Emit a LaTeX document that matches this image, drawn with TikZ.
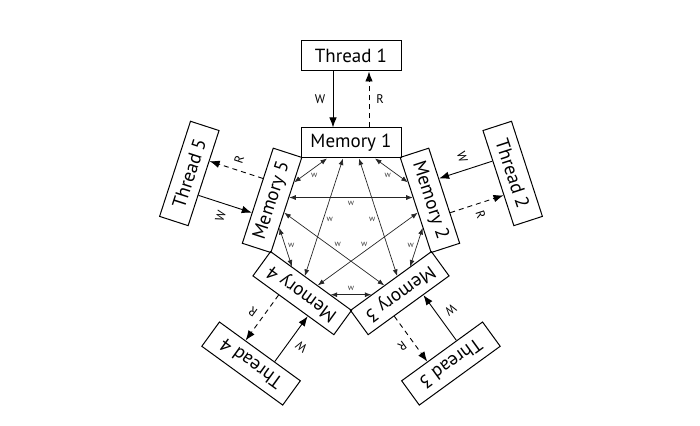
\documentclass[tikz,border=0pt]{standalone}
\usepackage{fontspec}
\setmainfont{PT Sans}
\usetikzlibrary{arrows.meta,calc}
\begin{document}
\begin{tikzpicture}[x=1pt,y=1pt,
  box/.style={draw, line width=1pt, minimum width=100pt, minimum height=30pt, inner sep=0pt, font=\fontsize{19}{19}\selectfont},
  wr/.style={line width=0.9pt, -{Latex[length=10pt,width=7.5pt]}},
  rd/.style={wr, dash pattern=on 5pt off 4pt},
  lab/.style={font=\fontsize{12.5}{12.5}\selectfont, inner sep=0pt},
  inner/.style={line width=0.7pt, draw=black!85, {Latex[length=6.5pt,width=5pt]}-{Latex[length=6.5pt,width=5pt]}},
  wl/.style={font=\fontsize{8.5}{8.5}\selectfont, inner sep=0pt, text=black!75}]
\useasboundingbox (-351,-199) rectangle (349,226);
\coordinate (O) at (0,0);
\foreach \i in {1,...,5}{
  \begin{scope}[rotate={-72*(\i-1)}, transform shape]
    \node[box] (t\i) at (0,170) {Thread \i};
    \node[box] (m\i) at (0,83) {Memory \i};
    \coordinate (m\i-1) at ($(m\i.south)!24pt!(m\i.south east)$);
    \coordinate (m\i-2) at ($(m\i.south)!8pt!(m\i.south east)$);
    \coordinate (m\i-3) at ($(m\i.south)!8pt!(m\i.south west)$);
    \coordinate (m\i-4) at ($(m\i.south)!24pt!(m\i.south west)$);
    \draw[wr] ($(t\i.south)!18pt!(t\i.south west)$) -- ($(m\i.north)!18pt!(m\i.north west)$);
    \draw[rd] ($(m\i.north)!18pt!(m\i.north east)$) -- ($(t\i.south)!18pt!(t\i.south east)$);
    \node[lab] (w\i) at (-31,127) {W};
    \node[lab] (r\i) at (29,127) {R};
  \end{scope}
}
\foreach \i/\j in {1/2,2/3,3/4,4/5,5/1}{
  \draw[inner] (m\i-1) -- coordinate[midway] (ha\i) (m\j-4);
  \node[wl] (la\i) at ($(ha\i)!6pt!(O)$) {w};
}
\foreach \i/\j in {1/3,2/4,3/5,4/1,5/2}{
  \draw[inner] (m\i-2) -- coordinate[midway] (hb\i) (m\j-3);
  \node[wl] (lb\i) at ($(hb\i)!6pt!(O)$) {w};
}
\end{tikzpicture}
\end{document}
